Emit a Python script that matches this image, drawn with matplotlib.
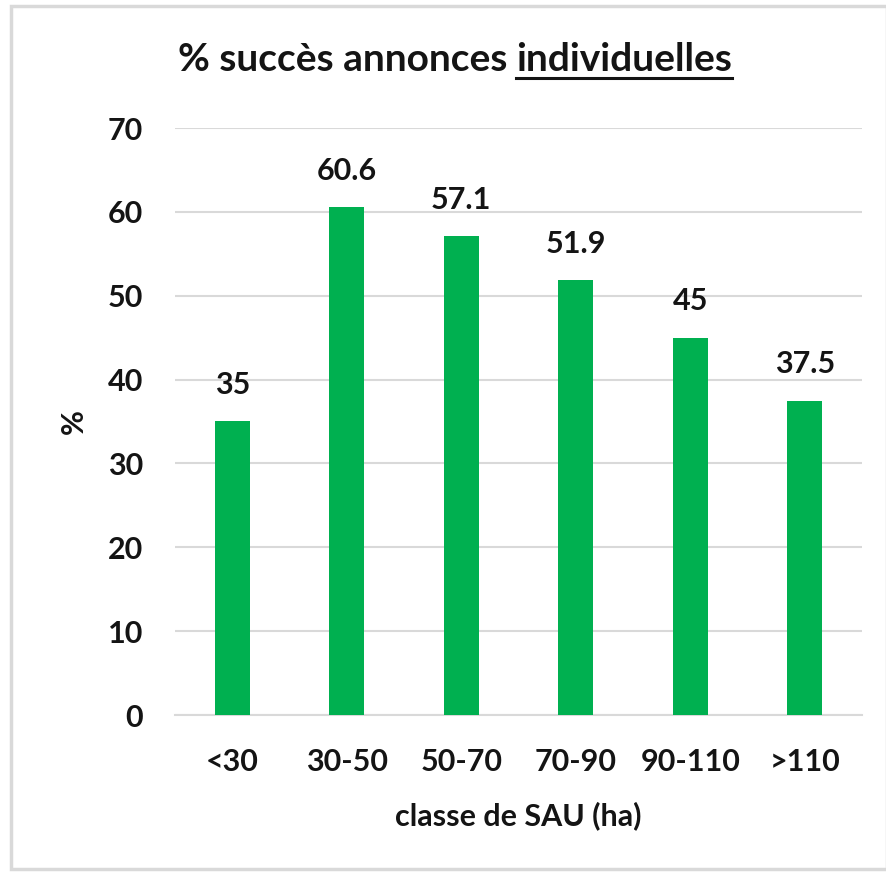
import matplotlib
matplotlib.use("Agg")
import matplotlib.pyplot as plt
from matplotlib.patches import Rectangle

categories = ["<30", "30-50", "50-70", "70-90", "90-110", ">110"]
values = [35, 60.6, 57.1, 51.9, 45, 37.5]
value_labels = ["35", "60.6", "57.1", "51.9", "45", "37.5"]
yticks = [0, 10, 20, 30, 40, 50, 60, 70]

plt.rcParams['font.family'] = ['Lato', 'DejaVu Sans']
plt.rcParams['font.weight'] = 'bold'

W, H = 887, 872
fig = plt.figure(figsize=(W / 100, H / 100), dpi=100)
fig.patch.set_facecolor("white")

TXT = "#141414"
FS = 22

# outer frame
fig.patches.append(Rectangle((11 / W, 3 / H), (W - 11) / W, (H - 9) / H,
                             transform=fig.transFigure, fill=False,
                             edgecolor="#d9d9d9", linewidth=2.5))

ax = fig.add_axes([175 / W, 1 - 715 / H, (862 - 175) / W, (715 - 128) / H])
x = range(len(categories))
ax.bar(x, values, width=0.31, color="#00b050", zorder=3)
ax.set_xlim(-0.5, len(categories) - 0.5)
ax.set_ylim(0, 70)
ax.set_yticks(yticks)
ax.set_yticklabels([str(v) for v in yticks])
ax.set_xticks(list(x))
ax.set_xticklabels(categories)
ax.tick_params(axis="both", length=0, labelsize=FS, labelcolor=TXT)
ax.tick_params(axis="y", pad=23)
ax.tick_params(axis="x", pad=24)
ax.grid(axis="y", color="#d9d9d9", linewidth=1.5, zorder=0)
for s in ["top", "right", "left"]:
    ax.spines[s].set_visible(False)
ax.spines["bottom"].set_color("#d9d9d9")
ax.spines["bottom"].set_linewidth(1.5)

for xi, v, lab in zip(x, values, value_labels):
    ax.annotate(lab, (xi, v), xytext=(0, 16), textcoords="offset points",
                ha="center", va="bottom", fontsize=FS, fontweight="bold",
                color=TXT)

ax.set_xlabel("classe de SAU (ha)", fontsize=FS, fontweight="bold",
              color=TXT, labelpad=18)
ax.set_ylabel("%", fontsize=FS, fontweight="bold", color=TXT, labelpad=14)

# title with underlined part
fig.canvas.draw()
renderer = fig.canvas.get_renderer()
prefix = "% succès annonces "
under = "individuelles"
tsize = 28
tmp = fig.text(0, 0, prefix + under, fontsize=tsize, fontweight="bold")
full_w = tmp.get_window_extent(renderer).width
tmp.remove()
tmp = fig.text(0, 0, prefix, fontsize=tsize, fontweight="bold")
pre_w = tmp.get_window_extent(renderer).width
tmp.remove()
cx = 455
start = cx - full_w / 2
ty = 1 - 71 / H
t1 = fig.text(start / W, ty, prefix, fontsize=tsize, fontweight="bold",
              color=TXT, ha="left", va="baseline")
t2 = fig.text((start + pre_w) / W, ty, under, fontsize=tsize, fontweight="bold",
              color=TXT, ha="left", va="baseline")
fig.canvas.draw()
bb = t2.get_window_extent(renderer)
uy = (ty * H - 7) / H
fig.add_artist(plt.Line2D([bb.x0 / W, bb.x1 / W], [uy, uy],
                          transform=fig.transFigure, color=TXT, linewidth=2.2))

fig.savefig("out.png", dpi=100, facecolor="white")
